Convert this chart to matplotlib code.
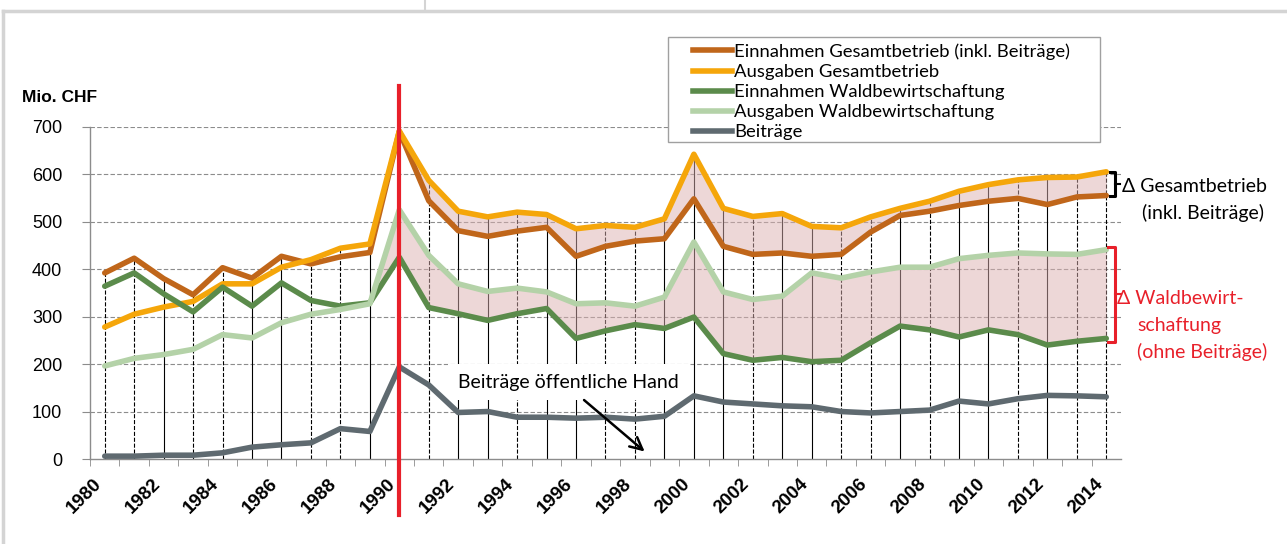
import matplotlib
matplotlib.use('Agg')
import matplotlib.pyplot as plt
from matplotlib.lines import Line2D
from matplotlib.patches import Rectangle

# Daten (Mio. CHF)
jahre = list(range(1980, 2015))

einnahmen_gesamt = [392, 423, 380, 346, 403, 381, 427, 411, 426, 435,
                    690, 544, 481, 469, 480, 488, 427, 448, 459, 464,
                    548, 448, 431, 434, 427, 431, 478, 513, 522, 534,
                    543, 549, 536, 552, 555]
ausgaben_gesamt = [278, 305, 320, 332, 369, 369, 404, 420, 444, 453,
                   691, 587, 522, 510, 520, 515, 485, 492, 488, 506,
                   642, 528, 511, 517, 490, 487, 510, 528, 543, 564,
                   578, 588, 593, 594, 605]
einnahmen_wald = [364, 392, 348, 310, 362, 322, 371, 334, 322, 329,
                  425, 319, 306, 292, 306, 317, 254, 270, 283, 275,
                  299, 222, 208, 214, 205, 208, 245, 280, 272, 257,
                  272, 262, 240, 248, 254]
ausgaben_wald = [196, 212, 220, 231, 262, 255, 287, 305, 315, 327,
                 525, 429, 369, 353, 360, 352, 327, 329, 322, 341,
                 457, 352, 336, 343, 392, 381, 394, 404, 404, 422,
                 429, 434, 432, 431, 441]
beitraege = [6, 6, 8, 8, 13, 25, 30, 34, 64, 58,
             194, 156, 98, 100, 88, 88, 86, 88, 84, 90,
             133, 120, 116, 112, 110, 100, 97, 100, 103, 122,
             116, 127, 134, 133, 131]

namen = ['Einnahmen Gesamtbetrieb (inkl. Beiträge)', 'Ausgaben Gesamtbetrieb',
         'Einnahmen Waldbewirtschaftung', 'Ausgaben Waldbewirtschaftung', 'Beiträge']
farben = ['#c0661a', '#f5a60a', '#5b8b4b', '#b4d2a8', '#5f6a70']

# Stil der senkrechten Linien je Jahr
fall_stil = ['--', '--', '-', '--', '--', '-', '-', '--', '--', '-',
             '-', '--', '-', '-', '--', '-', '-', '--', '--', '-',
             '-', '-', '--', '-', '-', '--', '--', '-', '--', '-',
             '-', '--', '-', '--', '--']

W, H = 1287, 544


def px(x, y):
    return x / W, 1 - y / H


fig = plt.figure(figsize=(W / 100, H / 100), dpi=100)
ax = fig.add_axes([90 / W, 1 - 459 / H, (1121 - 90) / W, (459 - 126.7) / H])

serien = [einnahmen_gesamt, ausgaben_gesamt, einnahmen_wald, ausgaben_wald, beitraege]

# Gitter
for v in range(100, 701, 100):
    ax.axhline(v, color='#8c8c8c', lw=0.8, ls=(0, (4, 2)), zorder=1)

# Senkrechte Linien bis zum obersten Wert
for i, j in enumerate(jahre):
    top = max(s[i] for s in serien)
    ax.plot([j, j], [0, top], color='black', lw=0.8, ls=fall_stil[i], zorder=2)

# Flächen zwischen Einnahmen und Ausgaben
idx90 = jahre.index(1990)
idx89 = jahre.index(1989)
ax.fill_between(jahre[idx90:], einnahmen_gesamt[idx90:], ausgaben_gesamt[idx90:],
                color='#dcb0b0', alpha=0.5, lw=0, zorder=3)
ax.fill_between(jahre[idx89:], einnahmen_wald[idx89:], ausgaben_wald[idx89:],
                color='#dcb0b0', alpha=0.5, lw=0, zorder=3)

fam = ['Lato', 'DejaVu Sans']

# Textfeld Beiträge
ax.text(1992.0, 162, 'Beiträge öffentliche Hand', fontsize=14,
        family=fam, va='center', ha='left', zorder=4,
        bbox=dict(boxstyle='square,pad=0.5', fc='white', ec='none'))
ax.annotate('', xy=(1998.4, 12), xytext=(1996.2, 128), zorder=6,
            arrowprops=dict(arrowstyle='->', color='black', lw=1.8, mutation_scale=22))

for s, f in zip(serien, farben):
    ax.plot(jahre, s, color=f, lw=4, zorder=5, solid_capstyle='round')

# Rote Linie 1990
ax.plot([1990, 1990], [-118, 785], color='#e8202a', lw=3, clip_on=False, zorder=7)

ax.set_xlim(1979.5, 2014.5)
ax.set_ylim(0, 700)
for sp in ['top', 'right']:
    ax.spines[sp].set_visible(False)
for sp in ['left', 'bottom']:
    ax.spines[sp].set_color('#8c8c8c')
    ax.spines[sp].set_linewidth(1.0)

ax.set_yticks(range(0, 701, 100))
ax.set_yticklabels([str(v) for v in range(0, 701, 100)], fontsize=13, family='Liberation Sans')
ax.tick_params(axis='y', length=6, color='#8c8c8c', pad=14)

ax.set_xticks(jahre[::2])
ax.set_xticklabels([str(j) for j in jahre[::2]], rotation=45, ha='right', va='top',
                   fontsize=13.5, fontweight='bold', family='Liberation Sans')
ax.set_xticks([j + 0.5 for j in jahre[:-1]] + [1979.5], minor=True)
ax.tick_params(axis='x', which='major', length=0, pad=12)
ax.tick_params(axis='x', which='minor', length=5, color='#8c8c8c')

fig.text(*px(22, 97), 'Mio. CHF', fontsize=12.5, fontweight='bold',
         family='Liberation Sans', va='center', ha='left')

# Legende
fig.add_artist(Rectangle(px(668, 142), (1100 - 668) / W, (142 - 37) / H,
                         transform=fig.transFigure, fc='white', ec='#a0a0a0', lw=1, zorder=8))
handles = [Line2D([], [], color=f, lw=4) for f in farben]
leg = fig.legend(handles, namen, loc='upper left', bbox_to_anchor=px(686, 36),
                 frameon=False, handlelength=2.1, handletextpad=0.1,
                 labelspacing=0.22, borderaxespad=0,
                 prop={'family': fam, 'size': 13.3})
leg.set_zorder(9)

# Klammern rechts
ax.plot([2014.12, 2014.3, 2014.3, 2014.12], [605, 605, 555, 555], color='black',
        lw=2.2, clip_on=False, zorder=7)
ax.plot([2014.3, 2014.45], [580, 580], color='black', lw=1.5, clip_on=False, zorder=7)
ax.plot([2014.05, 2014.3, 2014.3, 2014.05], [447, 447, 247, 247], color='#e8202a',
        lw=2.2, clip_on=False, zorder=7)
ax.plot([2014.3, 2014.5], [347, 347], color='#e8202a', lw=1.5, clip_on=False, zorder=7)

fig.text(*px(1122, 186), 'Δ Gesamtbetrieb', fontsize=14, family=fam, va='center', color='black')
fig.text(*px(1142, 213), '(inkl. Beiträge)', fontsize=14, family=fam, va='center', color='black')
fig.text(*px(1117, 298), 'Δ Waldbewirt-', fontsize=14, family=fam, va='center', color='#e8202a')
fig.text(*px(1137, 325), 'schaftung', fontsize=14, family=fam, va='center', color='#e8202a')
fig.text(*px(1137, 352), '(ohne Beiträge)', fontsize=14, family=fam, va='center', color='#e8202a')

# Rahmen
fig.add_artist(Line2D([3 / W, 1], [1 - 11 / H, 1 - 11 / H], transform=fig.transFigure,
                      color='#d4d4d4', lw=2.5))
fig.add_artist(Line2D([3 / W, 3 / W], [0, 1 - 11 / H], transform=fig.transFigure,
                      color='#d4d4d4', lw=2.5))
fig.add_artist(Line2D([425 / W, 425 / W], [1 - 11 / H, 1], transform=fig.transFigure,
                      color='#d4d4d4', lw=1.5))

fig.savefig('out.png', dpi=100)
